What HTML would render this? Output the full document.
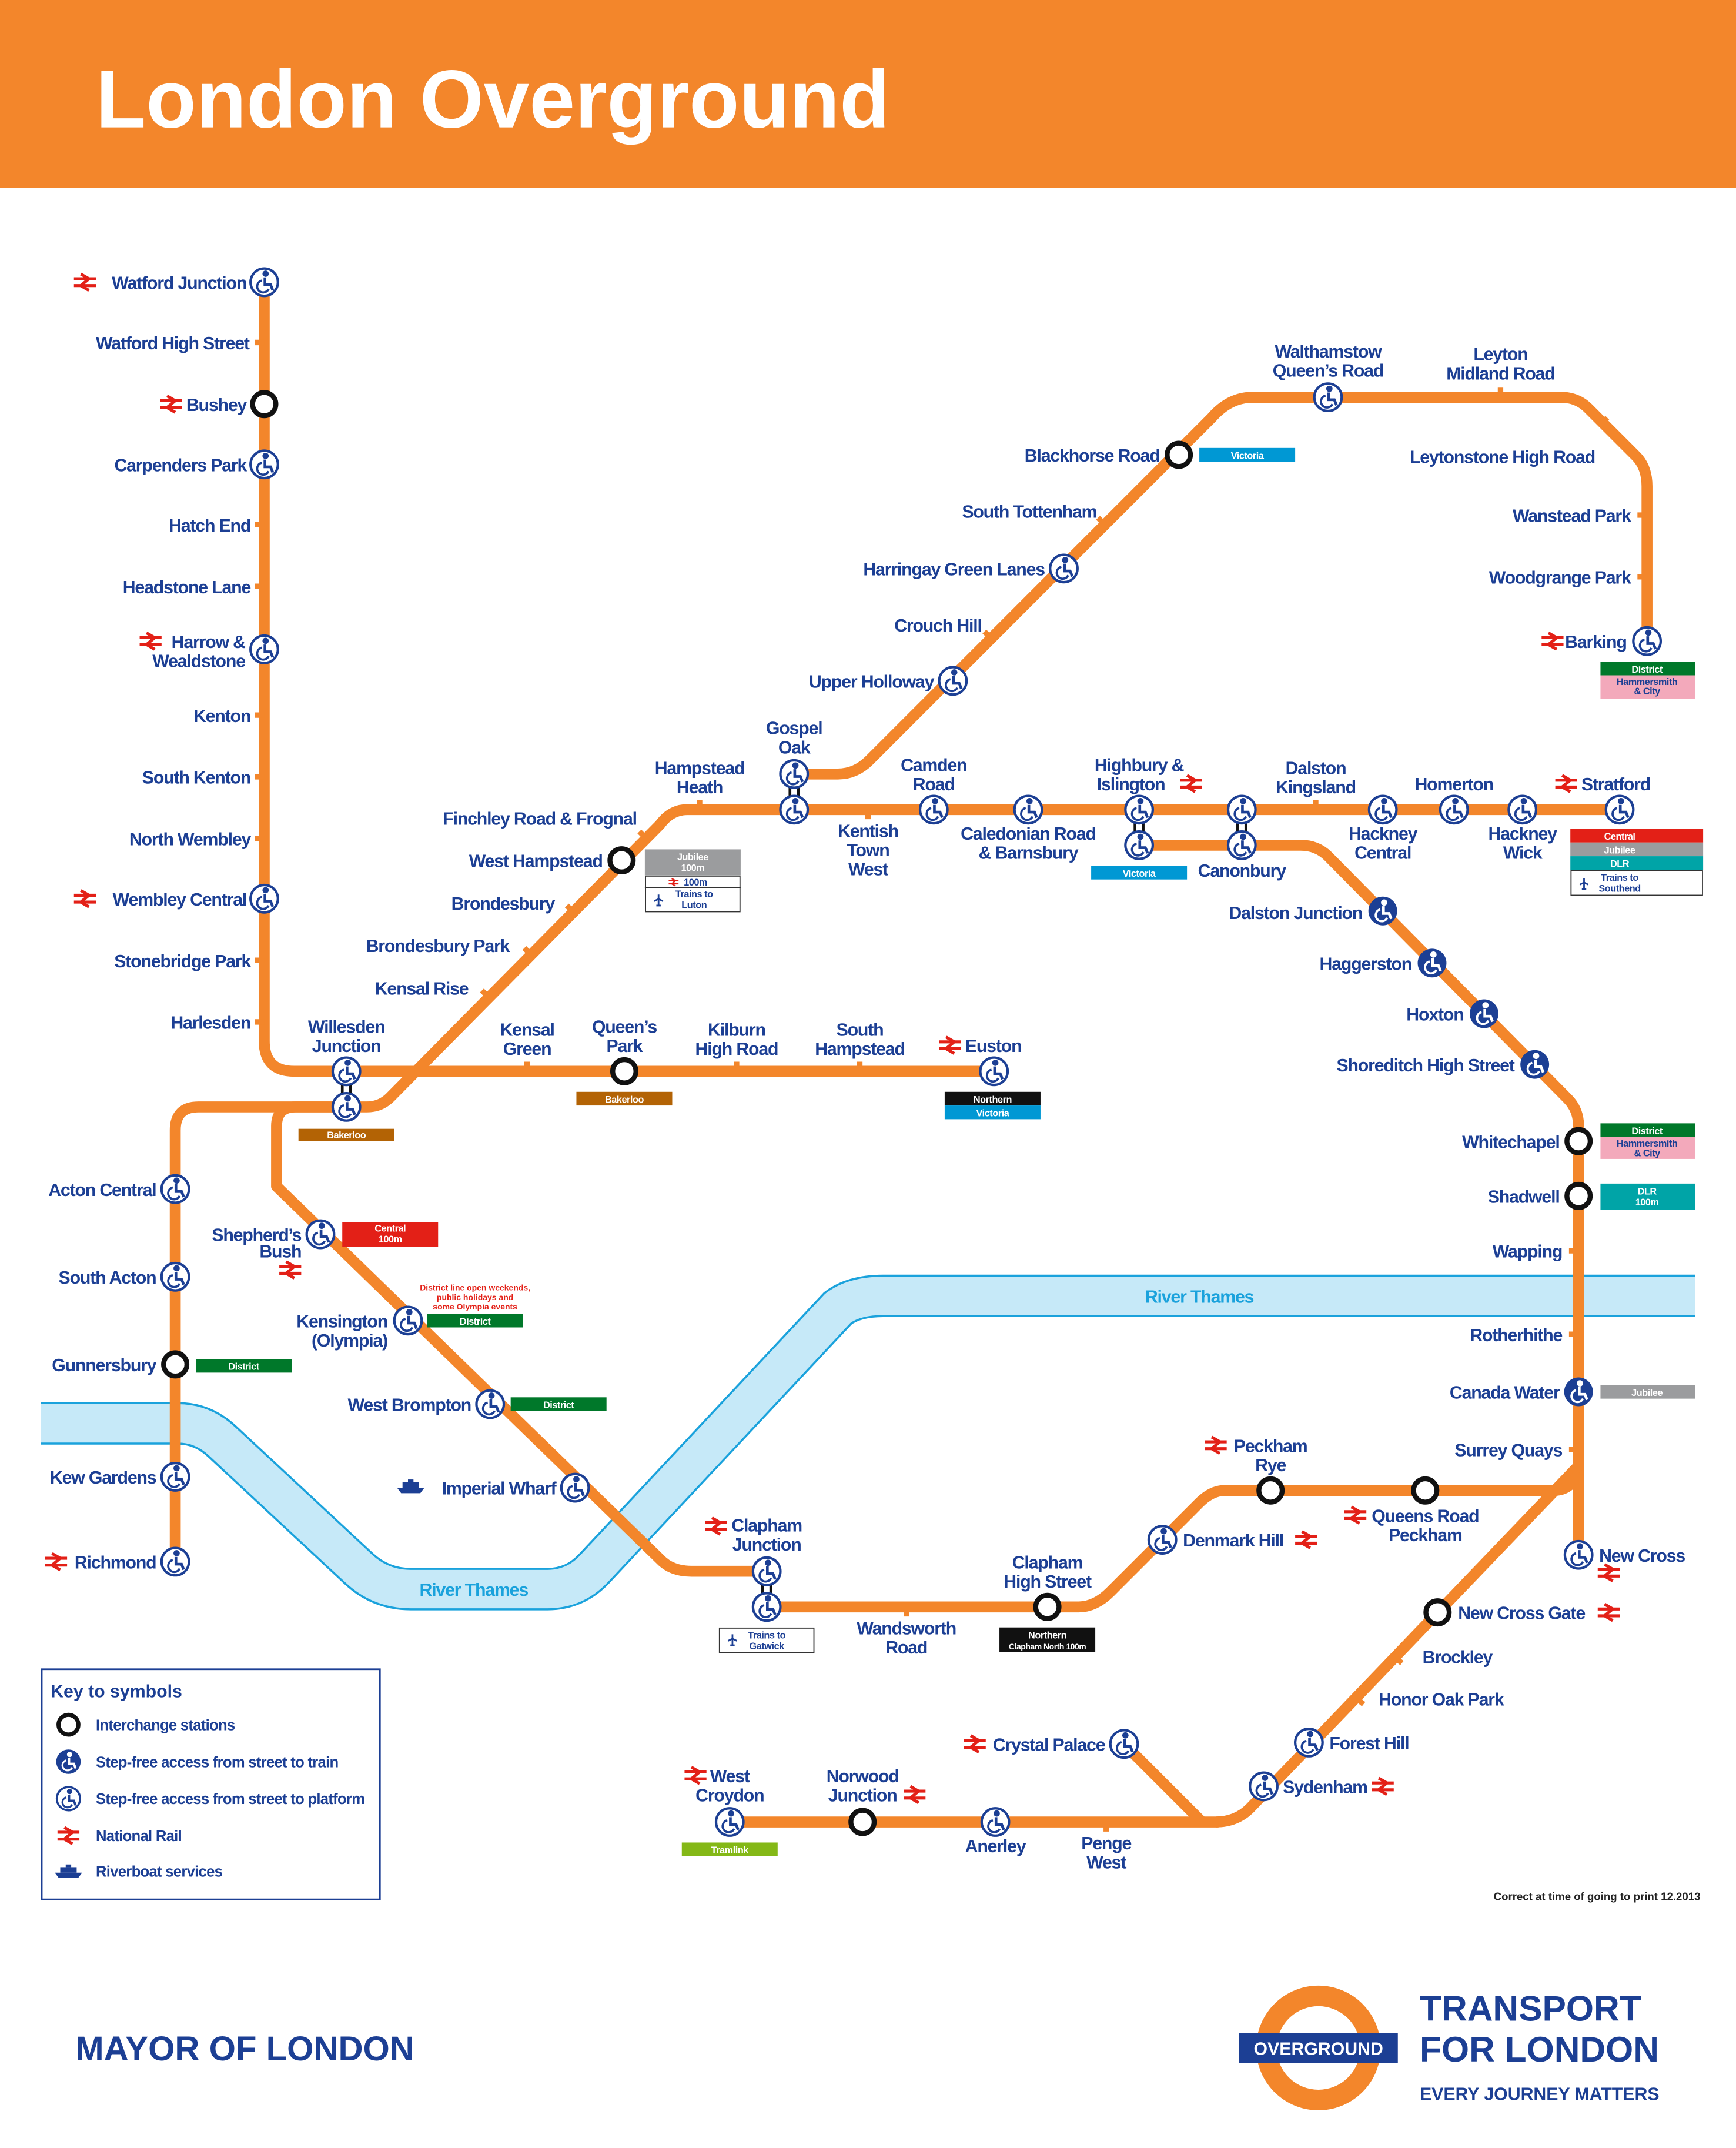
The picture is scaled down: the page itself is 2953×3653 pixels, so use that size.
<!DOCTYPE html>
<html><head><meta charset="utf-8"><style>
html,body{margin:0;padding:0;background:#fff;}
svg{display:block;}
text{font-family:"Liberation Sans",sans-serif;font-weight:bold;fill:#1c3f94;font-size:13px;letter-spacing:-0.5px;}
.e{text-anchor:end}.m{text-anchor:middle}
.bx{font-size:7px;fill:#fff;text-anchor:middle;letter-spacing:-0.2px}
.bk{font-size:7px;fill:#1c3f94;text-anchor:middle;letter-spacing:-0.2px}
.ln{fill:none;stroke:#f3862b;stroke-width:8;stroke-linejoin:round}
.tk{stroke:#f3862b;stroke-width:4}
</style></head><body>
<svg width="2953" height="3653" viewBox="0 0 1268 1568" preserveAspectRatio="none" xmlns="http://www.w3.org/2000/svg">
<defs>
<g id="gl"><circle cx="1" cy="-6.2" r="1.8"/><path d="M0.5,-3.5 L0.5,1.8 L4.6,1.8 L6.2,5.8" fill="none" stroke-width="2"/><path d="M-1.8,-1.2 A4.4,4.4 0 1 0 3.2,5" fill="none" stroke-width="1.6"/></g>
<g id="sf"><circle r="10" fill="#fff" stroke="#1c3f94" stroke-width="1.8"/><use href="#gl" fill="#1c3f94" stroke="#1c3f94"/></g>
<g id="sff"><circle r="10.5" fill="#1c3f94"/><use href="#gl" fill="#fff" stroke="#fff"/></g>
<g id="ic"><circle r="8.5" fill="#fff" stroke="#111" stroke-width="3.6"/></g>
<g id="nr"><path d="M-8,-2.5 H8 M-8,2.5 H8" stroke="#e32017" stroke-width="2.2"/><path d="M-3,-6 L3,-2.5 L-3,2.5 L3,6" fill="none" stroke="#e32017" stroke-width="2.2"/></g>
<g id="boat"><path d="M-10,1 L10,1 L7,5 L-7,5 Z" fill="#1c3f94"/><rect x="-6" y="-3" width="12" height="4" fill="#1c3f94"/><rect x="-2" y="-5" width="4" height="2" fill="#1c3f94"/></g>
<g id="pl"><path d="M0,-5 L0,5 M-4,1 L0,-1 L4,1 M-2,5 L2,5" stroke="#1c3f94" stroke-width="1.5" fill="none"/></g>
</defs>
<rect x="0" y="0" width="1268" height="137" fill="#f3862b"/>
<text x="70" y="93" style="font-size:60px;fill:#fff;letter-spacing:0">London Overground</text>

<path d="M30,1039 L130,1039 Q148,1039 162,1052 L262,1145 Q278,1160 300,1160 L400,1160 Q420,1160 434,1145 L612,955 Q624,946 645,946 L1238,946" fill="none" stroke="#1aa2dc" stroke-width="31"/>
<path d="M30,1039 L130,1039 Q148,1039 162,1052 L262,1145 Q278,1160 300,1160 L400,1160 Q420,1160 434,1145 L612,955 Q624,946 645,946 L1238,946" fill="none" stroke="#c6e9f8" stroke-width="28"/>
<text x="876" y="951" class="m" style="fill:#1aa2dc">River Thames</text>
<text x="346" y="1165" class="m" style="fill:#1aa2dc">River Thames</text>

<path class="ln" d="M193,206 L193,760 Q193,782 215,782 L726,782"/>
<path class="ln" d="M253,808 L145,808 Q128,808 128,825 L128,1140"/>
<path class="ln" d="M253,808 L268,808 Q278,808 285,801 L482,602 Q490,591 502,591 L1183,591"/>
<path class="ln" d="M580,565 L612,565 Q625,565 635,555 L885,305 Q898,290 915,290 L1140,290 Q1152,290 1160,298 L1195,333 Q1203,341 1203,355 L1203,468"/>
<path class="ln" d="M832,617 L950,617 Q962,617 970,625 L1145,802 Q1153,810 1153,822 L1153,1135"/>
<path class="ln" d="M1153,1070 L913,1320 Q903,1330 888,1330"/>
<path class="ln" d="M533,1330 L890,1330 M821,1273 L878,1330"/>
<path class="ln" d="M1153,1075 Q1147,1088 1135,1088 L895,1088 Q885,1088 876,1097 L811,1162 Q800,1173 788,1173 L560,1173"/>
<path class="ln" d="M253,808 L216,808 Q202,808 202,822 L202,866 L484,1140 Q492,1147 505,1147 L560,1147"/>

<g class="tk">
<path d="M186,250H193 M186,383H193 M186,428H193 M186,522H193 M186,567H193 M186,612H193 M186,701H193 M186,746H193"/>
<path d="M385,775V782 M538,775V782 M628,775V782 M511,584V591 M634,591V598 M961,584V591"/>
<path d="M352,723L357,728 M383,692L388,697 M414,661L419,666 M467,607L472,612"/>
<path d="M719,461L724,466 M802,378L807,383 M1096,283V290 M1174,305L1169,310 M1196,376H1203 M1196,421H1203"/>
<path d="M1146,913H1153 M1146,974H1153 M1146,1058H1153"/>
<path d="M1019,1210L1024,1214 M991,1240L996,1244 M662,1173V1180 M808,1330V1337"/>
</g>

<rect x="876" y="327" width="70" height="10" fill="#0098d4"/><text x="911" y="335" class="bx">Victoria</text>
<rect x="1169" y="483" width="69" height="10" fill="#00782a"/><text x="1203" y="491" class="bx">District</text>
<rect x="1169" y="493" width="69" height="17" fill="#f3a9bb"/><text x="1203" y="500" class="bk">Hammersmith</text><text x="1203" y="507" class="bk">&amp; City</text>
<rect x="471" y="620" width="70" height="19" fill="#9b9c9e"/><text x="506" y="628" class="bx">Jubilee</text><text x="506" y="636" class="bx">100m</text>
<rect x="471.5" y="639.5" width="69" height="26" fill="#fff" stroke="#333" stroke-width="0.8"/><line x1="471" y1="648" x2="541" y2="648" stroke="#333" stroke-width="0.8"/>
<use href="#nr" transform="translate(492,644) scale(0.45)"/><text x="508" y="646.5" class="bk">100m</text>
<use href="#pl" transform="translate(481,657) scale(0.8)"/><text x="507" y="655" class="bk">Trains to</text><text x="507" y="663" class="bk">Luton</text>
<rect x="1147" y="605" width="97" height="10" fill="#e32017"/><text x="1183" y="613" class="bx">Central</text>
<rect x="1147" y="615" width="97" height="10" fill="#9b9c9e"/><text x="1183" y="623" class="bx">Jubilee</text>
<rect x="1147" y="625" width="97" height="10" fill="#00a4a7"/><text x="1183" y="633" class="bx">DLR</text>
<rect x="1147.5" y="635.5" width="96" height="18" fill="#fff" stroke="#333" stroke-width="0.8"/>
<use href="#pl" transform="translate(1157,645) scale(0.8)"/><text x="1183" y="643" class="bk">Trains to</text><text x="1183" y="651" class="bk">Southend</text>
<rect x="797" y="632" width="70" height="10" fill="#0098d4"/><text x="832" y="640" class="bx">Victoria</text>
<rect x="218" y="824" width="70" height="9" fill="#b36305"/><text x="253" y="831" class="bx">Bakerloo</text>
<rect x="421" y="797" width="70" height="10" fill="#b36305"/><text x="456" y="805" class="bx">Bakerloo</text>
<rect x="690" y="797" width="70" height="10" fill="#111"/><text x="725" y="805" class="bx">Northern</text>
<rect x="690" y="807" width="70" height="10" fill="#0098d4"/><text x="725" y="815" class="bx">Victoria</text>
<rect x="1169" y="820" width="69" height="10" fill="#00782a"/><text x="1203" y="828" class="bx">District</text>
<rect x="1169" y="830" width="69" height="16" fill="#f3a9bb"/><text x="1203" y="837" class="bk">Hammersmith</text><text x="1203" y="844" class="bk">&amp; City</text>
<rect x="1169" y="864" width="69" height="19" fill="#00a4a7"/><text x="1203" y="872" class="bx">DLR</text><text x="1203" y="880" class="bx">100m</text>
<rect x="1169" y="1011" width="69" height="10" fill="#9b9c9e"/><text x="1203" y="1019" class="bx">Jubilee</text>
<rect x="250" y="892" width="70" height="18" fill="#e32017"/><text x="285" y="899" class="bx">Central</text><text x="285" y="907" class="bx">100m</text>
<text x="347" y="942" class="m" style="font-size:6px;fill:#e32017;letter-spacing:0">District line open weekends,</text>
<text x="347" y="949" class="m" style="font-size:6px;fill:#e32017;letter-spacing:0">public holidays and</text>
<text x="347" y="956" class="m" style="font-size:6px;fill:#e32017;letter-spacing:0">some Olympia events</text>
<rect x="312" y="959" width="70" height="10" fill="#00782a"/><text x="347" y="967" class="bx">District</text>
<rect x="373" y="1020" width="70" height="10" fill="#00782a"/><text x="408" y="1028" class="bx">District</text>
<rect x="143" y="992" width="70" height="10" fill="#00782a"/><text x="178" y="1000" class="bx">District</text>
<rect x="525.5" y="1188.5" width="69" height="18" fill="#fff" stroke="#333" stroke-width="0.8"/>
<use href="#pl" transform="translate(535,1197) scale(0.8)"/><text x="560" y="1196" class="bk">Trains to</text><text x="560" y="1204" class="bk">Gatwick</text>
<rect x="730" y="1188" width="70" height="18" fill="#111"/><text x="765" y="1196" class="bx">Northern</text><text x="765" y="1204" class="bx" style="font-size:6px">Clapham North 100m</text>
<rect x="498" y="1345" width="70" height="10" fill="#84b817"/><text x="533" y="1353" class="bx">Tramlink</text>

<g stroke="#111" stroke-width="2"><path d="M250,790V800 M256,790V800 M577,573V583 M583,573V583 M829,599V609 M835,599V609 M904,599V609 M910,599V609 M557,1155V1165 M563,1155V1165"/></g>

<use href="#sf" x="193" y="206"/><use href="#ic" x="193" y="295"/><use href="#sf" x="193" y="339"/><use href="#sf" x="193" y="474"/><use href="#sf" x="193" y="656"/>
<use href="#sf" x="253" y="782"/><use href="#sf" x="253" y="808"/><use href="#ic" x="456" y="782"/><use href="#sf" x="726" y="782"/>
<use href="#ic" x="454" y="628"/>
<use href="#sf" x="580" y="565"/><use href="#sf" x="580" y="591"/><use href="#sf" x="682" y="591"/><use href="#sf" x="751" y="591"/>
<use href="#sf" x="832" y="591"/><use href="#sf" x="832" y="617"/><use href="#sf" x="907" y="591"/><use href="#sf" x="907" y="617"/>
<use href="#sf" x="1010" y="591"/><use href="#sf" x="1062" y="591"/><use href="#sf" x="1112" y="591"/><use href="#sf" x="1183" y="591"/>
<use href="#sf" x="696" y="497"/><use href="#sf" x="777" y="415"/><use href="#ic" x="861" y="332"/><use href="#sf" x="970" y="290"/><use href="#sf" x="1203" y="468"/>
<use href="#sff" x="1010" y="665"/><use href="#sff" x="1046" y="703"/><use href="#sff" x="1084" y="740"/><use href="#sff" x="1121" y="777"/>
<use href="#ic" x="1153" y="833"/><use href="#ic" x="1153" y="873"/><use href="#sff" x="1153" y="1016"/><use href="#sf" x="1153" y="1135"/>
<use href="#ic" x="1050" y="1177"/><use href="#sf" x="956" y="1272"/><use href="#sf" x="923" y="1304"/><use href="#sf" x="821" y="1273"/>
<use href="#sf" x="727" y="1330"/><use href="#ic" x="630" y="1330"/><use href="#sf" x="533" y="1330"/>
<use href="#ic" x="928" y="1088"/><use href="#ic" x="1041" y="1088"/><use href="#sf" x="849" y="1124"/><use href="#ic" x="765" y="1173"/>
<use href="#sf" x="560" y="1147"/><use href="#sf" x="560" y="1173"/>
<use href="#sf" x="420" y="1086"/><use href="#sf" x="358" y="1025"/><use href="#sf" x="298" y="964"/><use href="#sf" x="234" y="901"/>
<use href="#sf" x="128" y="868"/><use href="#sf" x="128" y="932"/><use href="#ic" x="128" y="996"/><use href="#sf" x="128" y="1078"/><use href="#sf" x="128" y="1140"/>

<use href="#nr" x="62" y="206"/><use href="#nr" x="125" y="295"/><use href="#nr" x="110" y="468"/><use href="#nr" x="62" y="656"/>
<use href="#nr" x="694" y="763"/><use href="#nr" x="870" y="572"/><use href="#nr" x="1144" y="572"/><use href="#nr" x="1134" y="468"/>
<use href="#nr" x="1175" y="1148"/><use href="#nr" x="1175" y="1177"/><use href="#nr" x="1010" y="1304"/><use href="#nr" x="712" y="1273"/>
<use href="#nr" x="668" y="1310"/><use href="#nr" x="508" y="1296"/><use href="#nr" x="888" y="1055"/><use href="#nr" x="990" y="1106"/>
<use href="#nr" x="954" y="1124"/><use href="#nr" x="523" y="1114"/><use href="#nr" x="212" y="927"/><use href="#nr" x="41" y="1140"/>
<use href="#boat" x="300" y="1085"/>

<text x="180" y="211" class="e">Watford Junction</text>
<text x="182" y="255" class="e">Watford High Street</text>
<text x="180" y="300" class="e">Bushey</text>
<text x="180" y="344" class="e">Carpenders Park</text>
<text x="183" y="388" class="e">Hatch End</text>
<text x="183" y="433" class="e">Headstone Lane</text>
<text x="179" y="473" class="e">Harrow &amp;</text><text x="179" y="487" class="e">Wealdstone</text>
<text x="183" y="527" class="e">Kenton</text>
<text x="183" y="572" class="e">South Kenton</text>
<text x="183" y="617" class="e">North Wembley</text>
<text x="180" y="661" class="e">Wembley Central</text>
<text x="183" y="706" class="e">Stonebridge Park</text>
<text x="183" y="751" class="e">Harlesden</text>
<text x="253" y="754" class="m">Willesden</text><text x="253" y="768" class="m">Junction</text>
<text x="385" y="756" class="m">Kensal</text><text x="385" y="770" class="m">Green</text>
<text x="456" y="754" class="m">Queen’s</text><text x="456" y="768" class="m">Park</text>
<text x="538" y="756" class="m">Kilburn</text><text x="538" y="770" class="m">High Road</text>
<text x="628" y="756" class="m">South</text><text x="628" y="770" class="m">Hampstead</text>
<text x="705" y="768">Euston</text>
<text x="342" y="726" class="e">Kensal Rise</text>
<text x="372" y="695" class="e">Brondesbury Park</text>
<text x="405" y="664" class="e">Brondesbury</text>
<text x="440" y="633" class="e">West Hampstead</text>
<text x="465" y="602" class="e">Finchley Road &amp; Frognal</text>
<text x="511" y="565" class="m">Hampstead</text><text x="511" y="579" class="m">Heath</text>
<text x="580" y="536" class="m">Gospel</text><text x="580" y="550" class="m">Oak</text>
<text x="634" y="611" class="m">Kentish</text><text x="634" y="625" class="m">Town</text><text x="634" y="639" class="m">West</text>
<text x="682" y="563" class="m">Camden</text><text x="682" y="577" class="m">Road</text>
<text x="751" y="613" class="m">Caledonian Road</text><text x="751" y="627" class="m">&amp; Barnsbury</text>
<text x="832" y="563" class="m">Highbury &amp;</text><text x="826" y="577" class="m">Islington</text>
<text x="907" y="640" class="m">Canonbury</text>
<text x="961" y="565" class="m">Dalston</text><text x="961" y="579" class="m">Kingsland</text>
<text x="1010" y="613" class="m">Hackney</text><text x="1010" y="627" class="m">Central</text>
<text x="1062" y="577" class="m">Homerton</text>
<text x="1112" y="613" class="m">Hackney</text><text x="1112" y="627" class="m">Wick</text>
<text x="1155" y="577">Stratford</text>
<text x="682" y="502" class="e">Upper Holloway</text>
<text x="717" y="461" class="e">Crouch Hill</text>
<text x="763" y="420" class="e">Harringay Green Lanes</text>
<text x="801" y="378" class="e">South Tottenham</text>
<text x="847" y="337" class="e">Blackhorse Road</text>
<text x="970" y="261" class="m">Walthamstow</text><text x="970" y="275" class="m">Queen’s Road</text>
<text x="1096" y="263" class="m">Leyton</text><text x="1096" y="277" class="m">Midland Road</text>
<text x="1165" y="338" class="e">Leytonstone High Road</text>
<text x="1191" y="381" class="e">Wanstead Park</text>
<text x="1191" y="426" class="e">Woodgrange Park</text>
<text x="1188" y="473" class="e">Barking</text>
<text x="995" y="671" class="e">Dalston Junction</text>
<text x="1031" y="708" class="e">Haggerston</text>
<text x="1069" y="745" class="e">Hoxton</text>
<text x="1106" y="782" class="e">Shoreditch High Street</text>
<text x="1139" y="838" class="e">Whitechapel</text>
<text x="1139" y="878" class="e">Shadwell</text>
<text x="1141" y="918" class="e">Wapping</text>
<text x="1141" y="979" class="e">Rotherhithe</text>
<text x="1139" y="1021" class="e">Canada Water</text>
<text x="1141" y="1063" class="e">Surrey Quays</text>
<text x="1168" y="1140">New Cross</text>
<text x="1065" y="1182">New Cross Gate</text>
<text x="1039" y="1214">Brockley</text>
<text x="1007" y="1245">Honor Oak Park</text>
<text x="971" y="1277">Forest Hill</text>
<text x="937" y="1309">Sydenham</text>
<text x="807" y="1278" class="e">Crystal Palace</text>
<text x="808" y="1350" class="m">Penge</text><text x="808" y="1364" class="m">West</text>
<text x="727" y="1352" class="m">Anerley</text>
<text x="630" y="1301" class="m">Norwood</text><text x="630" y="1315" class="m">Junction</text>
<text x="533" y="1301" class="m">West</text><text x="533" y="1315" class="m">Croydon</text>
<text x="928" y="1060" class="m">Peckham</text><text x="928" y="1074" class="m">Rye</text>
<text x="1041" y="1111" class="m">Queens Road</text><text x="1041" y="1125" class="m">Peckham</text>
<text x="864" y="1129">Denmark Hill</text>
<text x="765" y="1145" class="m">Clapham</text><text x="765" y="1159" class="m">High Street</text>
<text x="662" y="1193" class="m">Wandsworth</text><text x="662" y="1207" class="m">Road</text>
<text x="560" y="1118" class="m">Clapham</text><text x="560" y="1132" class="m">Junction</text>
<text x="406" y="1091" class="e">Imperial Wharf</text>
<text x="344" y="1030" class="e">West Brompton</text>
<text x="283" y="969" class="e">Kensington</text><text x="283" y="983" class="e">(Olympia)</text>
<text x="220" y="906" class="e">Shepherd’s</text><text x="220" y="918" class="e">Bush</text>
<text x="114" y="873" class="e">Acton Central</text>
<text x="114" y="937" class="e">South Acton</text>
<text x="114" y="1001" class="e">Gunnersbury</text>
<text x="114" y="1083" class="e">Kew Gardens</text>
<text x="114" y="1145" class="e">Richmond</text>

<rect x="30.5" y="1218.5" width="247" height="168" fill="#fff" stroke="#1c3f94" stroke-width="1.2"/>
<text x="37" y="1239" style="font-size:13px;letter-spacing:0">Key to symbols</text>
<use href="#ic" transform="translate(50,1259) scale(0.85)"/>
<use href="#sff" transform="translate(50,1286) scale(0.85)"/>
<use href="#sf" transform="translate(50,1313) scale(0.85)"/>
<use href="#nr" transform="translate(50,1340)"/>
<use href="#boat" transform="translate(50,1366)"/>
<text x="70" y="1263" style="font-size:11px;letter-spacing:-0.3px">Interchange stations</text>
<text x="70" y="1290" style="font-size:11px;letter-spacing:-0.3px">Step-free access from street to train</text>
<text x="70" y="1317" style="font-size:11px;letter-spacing:-0.3px">Step-free access from street to platform</text>
<text x="70" y="1344" style="font-size:11px;letter-spacing:-0.3px">National Rail</text>
<text x="70" y="1370" style="font-size:11px;letter-spacing:-0.3px">Riverboat services</text>

<text x="1242" y="1387" class="e" style="font-size:8px;fill:#222;letter-spacing:0">Correct at time of going to print 12.2013</text>

<text x="55" y="1504" style="font-size:25px;letter-spacing:0">MAYOR OF LONDON</text>
<circle cx="963" cy="1495" r="38" fill="none" stroke="#f3862b" stroke-width="15"/>
<rect x="905" y="1484" width="116" height="22" fill="#1c3f94"/>
<text x="963" y="1500" class="m" style="font-size:13px;fill:#fff;letter-spacing:0">OVERGROUND</text>
<text x="1037" y="1475" style="font-size:26px;letter-spacing:0">TRANSPORT</text>
<text x="1037" y="1505" style="font-size:26px;letter-spacing:0">FOR LONDON</text>
<text x="1037" y="1533" style="font-size:13px;letter-spacing:0">EVERY JOURNEY MATTERS</text>
</svg>
</body></html>
